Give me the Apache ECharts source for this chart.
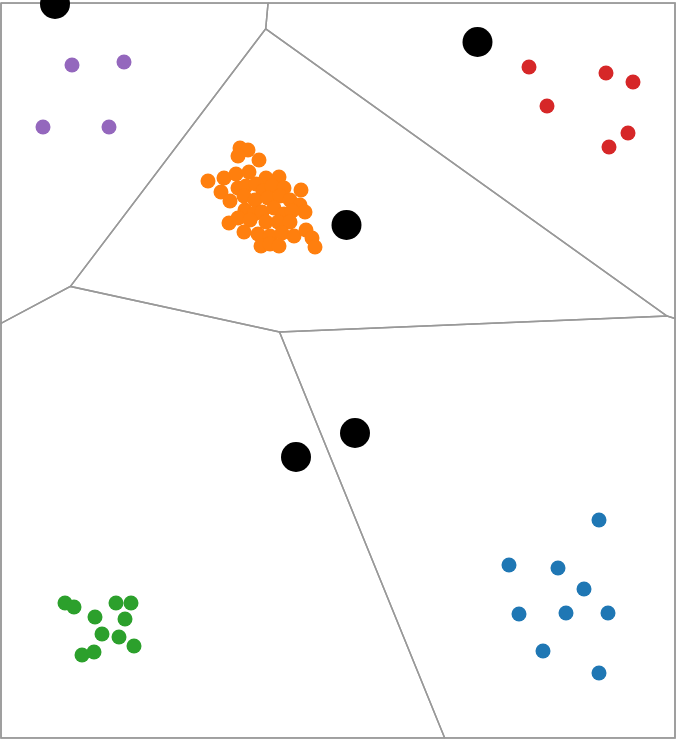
<!DOCTYPE html>
<html>
<head>
<meta charset="utf-8">
<script src="https://cdn.jsdelivr.net/npm/echarts@6/dist/echarts.min.js"></script>
<style>html,body{margin:0;padding:0;background:#fff;}#c{width:678px;height:744px;}</style>
</head>
<body>
<div id="c"></div>
<script>
// Data (plot units, y grows downward)
const xRange = [1, 675];
const yRange = [3, 738];

const centroids = [[55,4],[477.5,42],[346.5,225],[355,433],[296,457]];

const purplePts = [[72,65],[124,62],[43,127],[109,127]];
const redPts = [[529,67],[606,73],[633,82],[547,106],[628,133],[609,147]];
const orangePts = [
  [240,148],[248,150],[238,156],[259,160],[208,181],[224,178],[221,192],[236,174],
  [249,172],[266,178],[279,177],[238,188],[246,186],[256,184],[263,191],[272,186],
  [284,188],[301,190],[230,201],[244,196],[255,200],[268,198],[280,196],[290,200],
  [300,205],[305,212],[245,210],[254,214],[262,212],[274,208],[284,214],[292,211],
  [229,223],[238,218],[250,220],[266,222],[278,222],[290,222],[244,232],[258,234],
  [270,236],[282,233],[294,236],[306,230],[312,238],[315,247],[261,246],[270,244],[279,246]
];
const greenPts = [[65,603],[74,607],[95,617],[116,603],[131,603],[125,619],[102,634],[119,637],[134,646],[82,655],[94,652]];
const bluePts = [[599,520],[509,565],[558,568],[584,589],[519,614],[566,613],[608,613],[543,651],[599,673]];

// Voronoi cells of the centroids, clipped to the plot rectangle
function clipPoly(poly, a, b, c) {
  const out = [];
  for (let k = 0; k < poly.length; k++) {
    const p = poly[k], q = poly[(k + 1) % poly.length];
    const fp = a * p[0] + b * p[1] - c, fq = a * q[0] + b * q[1] - c;
    if (fp <= 0) out.push(p);
    if ((fp < 0 && fq > 0) || (fp > 0 && fq < 0)) {
      const t = fp / (fp - fq);
      out.push([p[0] + t * (q[0] - p[0]), p[1] + t * (q[1] - p[1])]);
    }
  }
  return out;
}
const cells = centroids.map((pi, i) => {
  let poly = [[xRange[0], yRange[0]], [xRange[1], yRange[0]], [xRange[1], yRange[1]], [xRange[0], yRange[1]]];
  centroids.forEach((pj, j) => {
    if (i === j) return;
    const a = pj[0] - pi[0], b = pj[1] - pi[1];
    const c = (pj[0] * pj[0] + pj[1] * pj[1] - pi[0] * pi[0] - pi[1] * pi[1]) / 2;
    poly = clipPoly(poly, a, b, c);
  });
  return { coords: poly.concat([poly[0]]) };
});

const chart = echarts.init(document.getElementById('c'));
const dot = (name, data, color) => ({
  type: 'scatter', name, data, symbolSize: 15, z: 3,
  itemStyle: { color: color, opacity: 1 }, silent: true
});
chart.setOption({
  animation: false,
  backgroundColor: '#fff',
  grid: { left: 1, top: 3, width: 674, height: 735, show: true, borderColor: '#999', borderWidth: 1.5, backgroundColor: 'transparent' },
  xAxis: { type: 'value', min: xRange[0], max: xRange[1], show: false },
  yAxis: { type: 'value', min: yRange[0], max: yRange[1], inverse: true, show: false },
  series: [
    { type: 'lines', coordinateSystem: 'cartesian2d', polyline: true, data: cells, z: 1,
      lineStyle: { color: '#999', width: 1.5, opacity: 1 }, silent: true },
    dot('purple', purplePts, '#9467bd'),
    dot('red', redPts, '#d62728'),
    dot('orange', orangePts, '#ff7f0e'),
    dot('green', greenPts, '#2ca02c'),
    dot('blue', bluePts, '#1f77b4'),
    { type: 'scatter', name: 'centroids', data: centroids, symbolSize: 30, z: 4,
      itemStyle: { color: '#000', opacity: 1 }, silent: true }
  ]
});
</script>
</body>
</html>
